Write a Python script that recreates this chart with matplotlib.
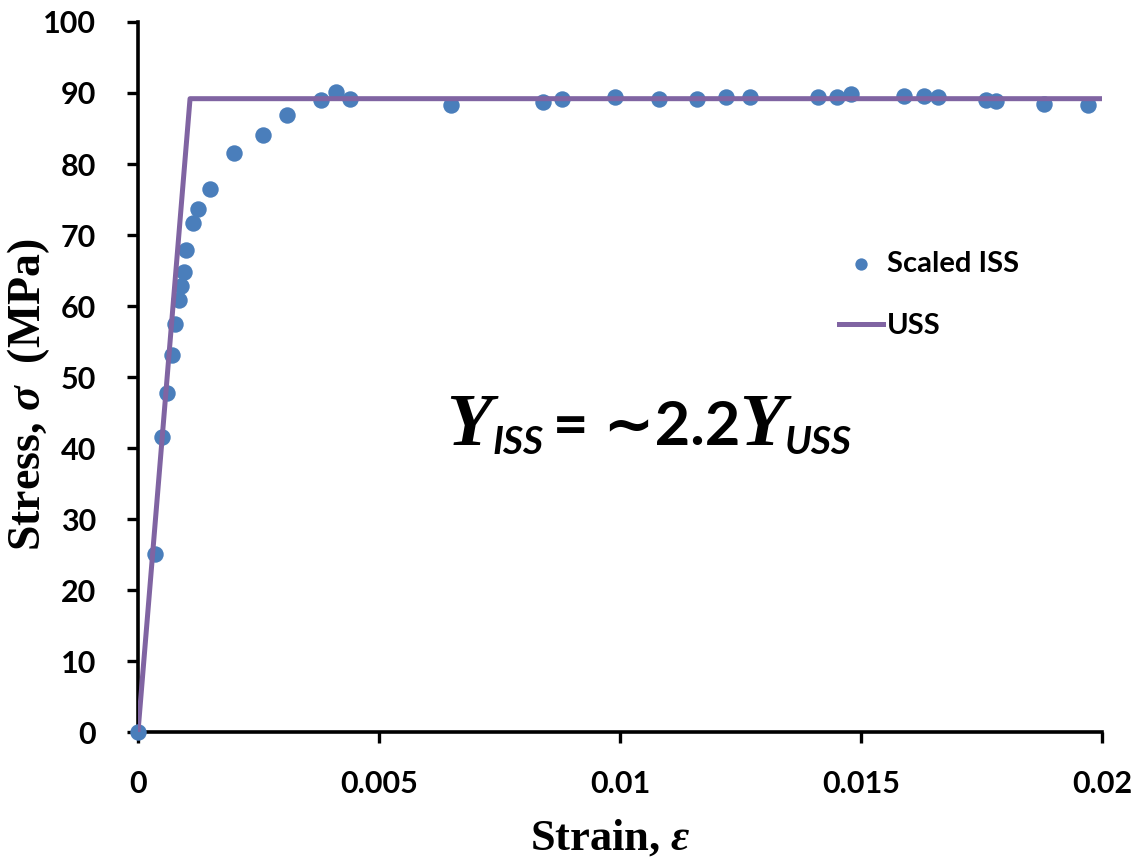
import numpy as np
import matplotlib
matplotlib.use("Agg")
import matplotlib.pyplot as plt

# scaled ISS data (strain, stress in MPa)
iss_strain = [0.0, 0.00035, 0.0005, 0.0006, 0.0007, 0.00077, 0.00085, 0.0009,
              0.00095, 0.001, 0.00114, 0.00124, 0.0015, 0.002, 0.0026, 0.0031,
              0.0038, 0.0041, 0.0044, 0.0065, 0.0084, 0.0088, 0.0099, 0.0108,
              0.0116, 0.0122, 0.0127, 0.0141, 0.0145, 0.0148, 0.0159, 0.0163,
              0.0166, 0.0176, 0.0178, 0.0188, 0.0197]
iss_stress = [0.0, 25.1, 41.5, 47.7, 53.1, 57.5, 60.8, 62.8,
              64.8, 67.9, 71.7, 73.7, 76.5, 81.5, 84.1, 86.9,
              89.0, 90.2, 89.2, 88.3, 88.7, 89.2, 89.4, 89.2,
              89.2, 89.4, 89.4, 89.4, 89.4, 89.9, 89.6, 89.6,
              89.4, 89.0, 88.9, 88.5, 88.3]

# USS bilinear curve
uss_strain = [0.0, 0.00108, 0.02]
uss_stress = [0.0, 89.2, 89.2]

xticks = [0, 0.005, 0.01, 0.015, 0.02]
xticklabels = ["0", "0.005", "0.01", "0.015", "0.02"]
yticks = list(range(0, 101, 10))

blue = "#4A7EBB"
purple = "#8064A2"
sans = "Lato"
serif = "Liberation Serif"

plt.rcParams["mathtext.fontset"] = "custom"
plt.rcParams["mathtext.it"] = "Liberation Serif:italic:bold"
plt.rcParams["mathtext.rm"] = "Liberation Serif:bold"

fig = plt.figure(figsize=(11.47, 8.59), dpi=100)
ax = fig.add_axes([0.1203, 0.1478, 0.8405, 0.8266])

ax.scatter(iss_strain, iss_stress, s=140, color=blue, zorder=3, clip_on=False,
           label="Scaled ISS", linewidths=0)
ax.plot(uss_strain, uss_stress, color=purple, lw=3.6, zorder=4, label="USS")

ax.set_xlim(0, 0.02)
ax.set_ylim(0, 100)
ax.set_xticks(xticks)
ax.set_xticklabels(xticklabels)
ax.set_yticks(yticks)

for side in ["top", "right"]:
    ax.spines[side].set_visible(False)
for side in ["left", "bottom"]:
    ax.spines[side].set_linewidth(2.6)
ax.tick_params(axis="both", direction="out", length=8, width=2.4, pad=19)
ax.tick_params(axis="y", pad=22)
for lab in ax.get_xticklabels() + ax.get_yticklabels():
    lab.set_fontfamily(sans)
    lab.set_fontweight("bold")
    lab.set_fontsize(22)

ax.set_xlabel(r"Strain, $\varepsilon$", fontfamily=serif,
              fontweight="bold", fontsize=32)
ax.set_ylabel(r"Stress, $\sigma$  (MPa)", fontfamily=serif,
              fontweight="bold", fontsize=33)
ax.xaxis.set_label_coords(0.49, -0.12)
ax.yaxis.set_label_coords(-0.114, 0.475)
ax.yaxis.label.set_va("center")

leg = ax.legend(loc="upper left", bbox_to_anchor=(0.70, 0.715), frameon=False,
                prop={"family": sans, "weight": "bold", "size": 21},
                handlelength=1.5, handletextpad=0.15, labelspacing=1.25,
                markerscale=0.75)

# annotation  Y_ISS = ~2.2 Y_USS
base_y = 40.4
t1 = ax.text(0.00640, base_y, "Y", fontfamily=serif, fontweight="bold",
             fontstyle="italic", fontsize=54, va="baseline")
t2 = ax.annotate("ISS", xy=(1, base_y), xycoords=(t1, "data"),
                 xytext=(0, -6), textcoords="offset points", va="baseline",
                 fontfamily=sans, fontweight="bold", fontstyle="italic", fontsize=28)
t3 = ax.annotate("= \u223c2.2", xy=(1, base_y), xycoords=(t2, "data"),
                 xytext=(7, 0), textcoords="offset points", va="baseline",
                 fontfamily=[sans, "DejaVu Sans"], fontweight="bold", fontsize=44)
t4 = ax.annotate("Y", xy=(1, base_y), xycoords=(t3, "data"),
                 xytext=(-1, 0), textcoords="offset points", va="baseline",
                 fontfamily=serif, fontweight="bold", fontstyle="italic", fontsize=54)
t5 = ax.annotate("USS", xy=(1, base_y), xycoords=(t4, "data"),
                 xytext=(0, -6), textcoords="offset points", va="baseline",
                 fontfamily=sans, fontweight="bold", fontstyle="italic", fontsize=28)

fig.savefig("out.png", dpi=100)
